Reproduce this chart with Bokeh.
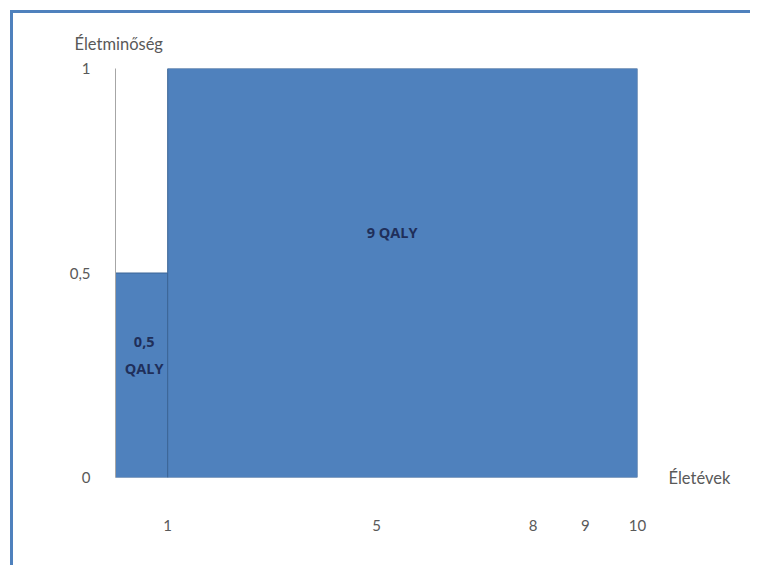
from bokeh.plotting import figure
from bokeh.models import Range1d, FixedTicker, ColumnDataSource, Title, LinearAxis
from bokeh.core.properties import value
from bokeh.embed import file_html
from bokeh.resources import INLINE

# data
segment_start = [0, 1]
segment_end = [1, 10]
quality = [0.5, 1]
qaly_labels = ["0,5\nQALY", "9 QALY"]
label_x = [0.55, 5.3]
label_y = [0.3, 0.6]
x_ticks = [1, 5, 8, 9, 10]
x_tick_labels = {1: "1", 5: "5", 8: "8", 9: "9", 10: "10"}
y_ticks = [0, 0.5, 1]
y_tick_labels = {0: "0", 0.5: "0,5", 1: "1"}
x_title = "Életévek"
y_title = "Életminőség"

FONT = "Lato"
TXT = "#595959"

p = figure(width=740, height=555, output_backend="svg", toolbar_location=None,
           x_range=Range1d(0, 10), y_range=Range1d(0, 1),
           min_border_left=102, min_border_right=116, min_border_top=55, min_border_bottom=91)
p.styles = {"margin-left": "10px", "margin-top": "10px",
            "border-left": "3px solid #4F81BD", "border-top": "3px solid #4F81BD"}
p.outline_line_color = None
p.grid.visible = False
p.background_fill_color = "white"
p.border_fill_color = "white"

src = ColumnDataSource(dict(left=segment_start, right=segment_end, top=quality, bottom=[0, 0]))
p.quad(left="left", right="right", top="top", bottom="bottom", source=src,
       fill_color="#4F81BD", line_color="#3A6496", line_width=1)

lsrc = ColumnDataSource(dict(x=label_x, y=label_y, t=qaly_labels))
p.text(x="x", y="y", text="t", source=lsrc, text_align="center", text_baseline="middle",
       text_font=value("Open Sans"), text_font_style="bold", text_font_size="14.5px",
       text_color="#1F2F5A", text_line_height=1.45)

xa = p.xaxis[0]
xa.ticker = FixedTicker(ticks=x_ticks)
xa.major_label_overrides = x_tick_labels
xa.axis_line_color = None
xa.major_tick_line_color = None
xa.minor_tick_line_color = None
xa.major_label_standoff = 36
xa.major_label_text_font = FONT
xa.major_label_text_font_size = "15px"
xa.major_label_text_color = TXT

ya = p.yaxis[0]
ya.ticker = FixedTicker(ticks=y_ticks)
ya.major_label_overrides = y_tick_labels
ya.axis_line_color = "#A6A6A6"
ya.axis_line_width = 1
ya.major_tick_line_color = None
ya.minor_tick_line_color = None
ya.major_label_standoff = 19
ya.major_label_text_font = FONT
ya.major_label_text_font_size = "15px"
ya.major_label_text_color = TXT

p.title = Title(text=y_title, align="left", offset=-41, standoff=30,
                text_font=FONT, text_font_size="16.5px", text_color=TXT, text_font_style="normal")

# x-axis name placed at the right end of the axis
ra = LinearAxis(ticker=FixedTicker(ticks=[0]), major_label_overrides={0: x_title},
                axis_line_color=None, major_tick_line_color=None, minor_tick_line_color=None,
                major_label_standoff=25, major_label_text_baseline="top",
                major_label_orientation="horizontal",
                major_label_text_font=FONT, major_label_text_font_size="16.5px",
                major_label_text_color=TXT)
p.add_layout(ra, "right")

open("out.html", "w").write(file_html(p, INLINE))
